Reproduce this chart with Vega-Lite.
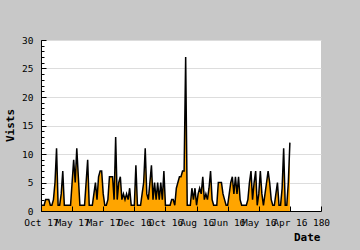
{
  "$schema": "https://vega.github.io/schema/vega-lite/v6.json",
  "width": 280,
  "height": 171,
  "autosize": {"type": "none"},
  "padding": {"left": 41, "top": 40, "right": 39, "bottom": 39},
  "background": "#c8c8c8",
  "config": {
    "view": {"fill": "white", "stroke": null},
    "axis": {
      "labelFont": "DejaVu Sans Mono",
      "titleFont": "DejaVu Sans Mono",
      "labelColor": "black",
      "titleColor": "black",
      "domainColor": "black",
      "tickColor": "black",
      "labelFontSize": 9.5,
      "titleFontSize": 11,
      "titleFontWeight": "bold"
    }
  },
  "data": {
    "values": [
      {"i":0,"v":1},{"i":1,"v":1},{"i":2,"v":1},{"i":3,"v":2},{"i":4,"v":2},{"i":5,"v":2},{"i":6,"v":1},{"i":7,"v":1},{"i":8,"v":2},{"i":9,"v":5},
      {"i":10,"v":11},{"i":11,"v":1},{"i":12,"v":1},{"i":13,"v":3},{"i":14,"v":7},{"i":15,"v":1},{"i":16,"v":1},{"i":17,"v":1},{"i":18,"v":1},{"i":19,"v":1},
      {"i":20,"v":5},{"i":21,"v":9},{"i":22,"v":5},{"i":23,"v":11},{"i":24,"v":6},{"i":25,"v":1},{"i":26,"v":1},{"i":27,"v":1},{"i":28,"v":1},{"i":29,"v":5},
      {"i":30,"v":9},{"i":31,"v":1},{"i":32,"v":1},{"i":33,"v":1},{"i":34,"v":3},{"i":35,"v":5},{"i":36,"v":2},{"i":37,"v":6},{"i":38,"v":7},{"i":39,"v":7},
      {"i":40,"v":3},{"i":41,"v":1},{"i":42,"v":1},{"i":43,"v":2},{"i":44,"v":6},{"i":45,"v":6},{"i":46,"v":6},{"i":47,"v":2},{"i":48,"v":13},{"i":49,"v":2},
      {"i":50,"v":5},{"i":51,"v":6},{"i":52,"v":2},{"i":53,"v":3},{"i":54,"v":2},{"i":55,"v":3},{"i":56,"v":2},{"i":57,"v":4},{"i":58,"v":1},{"i":59,"v":1},
      {"i":60,"v":1},{"i":61,"v":8},{"i":62,"v":1},{"i":63,"v":1},{"i":64,"v":1},{"i":65,"v":3},{"i":66,"v":5},{"i":67,"v":11},{"i":68,"v":3},{"i":69,"v":2},
      {"i":70,"v":5},{"i":71,"v":8},{"i":72,"v":2},{"i":73,"v":5},{"i":74,"v":2},{"i":75,"v":5},{"i":76,"v":2},{"i":77,"v":5},{"i":78,"v":2},{"i":79,"v":7},
      {"i":80,"v":1},{"i":81,"v":1},{"i":82,"v":1},{"i":83,"v":1},{"i":84,"v":2},{"i":85,"v":2},{"i":86,"v":1},{"i":87,"v":4},{"i":88,"v":5},{"i":89,"v":6},
      {"i":90,"v":6},{"i":91,"v":7},{"i":92,"v":7},{"i":93,"v":27},{"i":94,"v":1},{"i":95,"v":1},{"i":96,"v":1},{"i":97,"v":4},{"i":98,"v":2},{"i":99,"v":4},
      {"i":100,"v":1},{"i":101,"v":3},{"i":102,"v":4},{"i":103,"v":3},{"i":104,"v":6},{"i":105,"v":2},{"i":106,"v":3},{"i":107,"v":2},{"i":108,"v":4},{"i":109,"v":7},
      {"i":110,"v":2},{"i":111,"v":1},{"i":112,"v":1},{"i":113,"v":1},{"i":114,"v":5},{"i":115,"v":5},{"i":116,"v":5},{"i":117,"v":3},{"i":118,"v":2},{"i":119,"v":1},
      {"i":120,"v":1},{"i":121,"v":3},{"i":122,"v":5},{"i":123,"v":6},{"i":124,"v":3},{"i":125,"v":6},{"i":126,"v":3},{"i":127,"v":6},{"i":128,"v":2},{"i":129,"v":1},
      {"i":130,"v":1},{"i":131,"v":1},{"i":132,"v":1},{"i":133,"v":2},{"i":134,"v":5},{"i":135,"v":7},{"i":136,"v":2},{"i":137,"v":5},{"i":138,"v":7},{"i":139,"v":1},
      {"i":140,"v":3},{"i":141,"v":7},{"i":142,"v":3},{"i":143,"v":1},{"i":144,"v":3},{"i":145,"v":5},{"i":146,"v":7},{"i":147,"v":5},{"i":148,"v":2},{"i":149,"v":1},
      {"i":150,"v":1},{"i":151,"v":3},{"i":152,"v":5},{"i":153,"v":1},{"i":154,"v":1},{"i":155,"v":4},{"i":156,"v":11},{"i":157,"v":1},{"i":158,"v":1},{"i":159,"v":5},
      {"i":160,"v":12}
    ]
  },
  "encoding": {
    "x": {
      "field": "i",
      "type": "quantitative",
      "scale": {"domain": [0, 180], "nice": false},
      "axis": {
        "values": [0, 20, 40, 60, 80, 100, 120, 140, 160, 180],
        "labelExpr": "['Oct 17','May 17','Mar 17','Dec 16','Oct 16','Aug 16','Jun 16','May 16','Apr 16','180'][round(datum.value/20)]",
        "tickSize": -5,
        "labelPadding": 11,
        "labelOverlap": false,
        "labelFlush": false,
        "labelBaseline": "top",
        "grid": false,
        "zindex": 1,
        "title": "Date",
        "titleX": 279,
        "titleY": 29,
        "titleAlign": "right",
        "titleBaseline": "alphabetic"
      }
    }
  },
  "layer": [
    {
      "mark": {"type": "area", "color": "#ffa500"},
      "encoding": {
        "y": {
          "field": "v",
          "type": "quantitative",
          "scale": {"domain": [0, 30], "nice": false},
          "axis": {
            "values": [0, 5, 10, 15, 20, 25, 30],
            "grid": true,
            "gridColor": "#dddddd",
            "gridOpacity": 1,
            "domain": false,
            "tickSize": -5,
            "labelPadding": 13,
            "zindex": 0,
            "title": "Vists",
            "titleAngle": -90,
            "titleX": -28,
            "titleY": 85,
            "titleAlign": "center",
            "titleBaseline": "alphabetic"
          }
        }
      }
    },
    {
      "mark": {"type": "line", "color": "black", "strokeWidth": 1.5},
      "encoding": {
        "y": {
          "field": "v",
          "type": "quantitative",
          "axis": {
            "orient": "left",
            "values": [0,1,2,3,4,5,6,7,8,9,10,11,12,13,14,15,16,17,18,19,20,21,22,23,24,25,26,27,28,29,30],
            "tickSize": -3,
            "labels": false,
            "grid": false,
            "domain": true,
            "title": null,
            "zindex": 1
          }
        }
      }
    }
  ],
  "resolve": {"axis": {"y": "independent"}}
}
